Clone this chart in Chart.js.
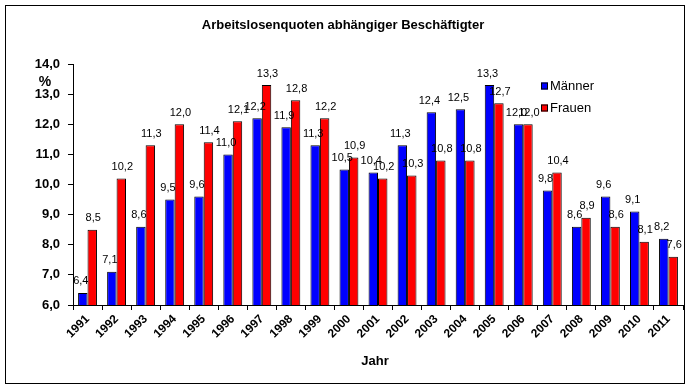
<!DOCTYPE html>
<html>
<head>
<meta charset="utf-8">
<script src="https://cdn.jsdelivr.net/npm/chart.js@4/dist/chart.umd.min.js"></script>
<style>
  html, body { margin: 0; padding: 0; background: #fff; }
  #wrap { width: 690px; height: 390px; }
</style>
</head>
<body>
<div id="wrap"><canvas id="chart" width="690" height="390"></canvas></div>
<script>
const years = ['1991', '1992', '1993', '1994', '1995', '1996', '1997', '1998', '1999', '2000',
               '2001', '2002', '2003', '2004', '2005', '2006', '2007', '2008', '2009', '2010', '2011'];
const maenner = [6.4, 7.1, 8.6, 9.5, 9.6, 11.0, 12.2, 11.9, 11.3, 10.5,
                 10.4, 11.3, 12.4, 12.5, 13.3, 12.0, 9.8, 8.6, 9.6, 9.1, 8.2];
const frauen = [8.5, 10.2, 11.3, 12.0, 11.4, 12.1, 13.3, 12.8, 12.2, 10.9,
                10.2, 10.3, 10.8, 10.8, 12.7, 12.0, 10.4, 8.9, 8.6, 8.1, 7.6];
const yTicks = [6, 7, 8, 9, 10, 11, 12, 13, 14];

const fmt = v => v.toFixed(1).replace('.', ',');
const FONT = 'Arial, "Liberation Sans", sans-serif';

// frame, title, axis captions, legend and value labels
const extras = {
    id: 'extras',
    afterDraw(chart) {
        const ctx = chart.ctx;
        ctx.save();

        ctx.strokeStyle = '#000';
        ctx.lineWidth = 1;
        ctx.strokeRect(5.5, 5.5, 679, 378);

        ctx.fillStyle = '#000';
        ctx.textAlign = 'center';
        ctx.textBaseline = 'middle';
        ctx.font = 'bold 13px ' + FONT;
        ctx.fillText('Arbeitslosenquoten abhängiger Beschäftigter', 343, 25);

        ctx.font = 'bold 14px ' + FONT;
        ctx.fillText('%', 45, 82);

        ctx.font = 'bold 13px ' + FONT;
        ctx.fillText('Jahr', 375, 361);

        // value labels
        ctx.font = '11px ' + FONT;
        ctx.textBaseline = 'bottom';
        chart.data.datasets.forEach((ds, i) => {
            const shift = i === 0 ? -2 : 1;
            chart.getDatasetMeta(i).data.forEach((bar, j) => {
                ctx.fillText(fmt(ds.data[j]), bar.x + shift, bar.y - 6);
            });
        });

        // legend
        const items = [['Männer', '#0000FF', 86], ['Frauen', '#FF0000', 108]];
        ctx.font = '13px ' + FONT;
        ctx.textAlign = 'left';
        ctx.textBaseline = 'middle';
        items.forEach(([label, color, y]) => {
            ctx.fillStyle = color;
            ctx.fillRect(541, y - 3.5, 7, 7);
            ctx.strokeStyle = '#000';
            ctx.strokeRect(541.5, y - 3, 6, 6);
            ctx.fillStyle = '#000';
            ctx.fillText(label, 550, y);
        });

        ctx.restore();
    }
};

new Chart(document.getElementById('chart').getContext('2d'), {
    type: 'bar',
    data: {
        labels: years,
        datasets: [{
            label: 'Männer',
            data: maenner,
            backgroundColor: '#0000FF',
            borderColor: '#000000',
            borderWidth: 1,
            categoryPercentage: 0.65,
            barPercentage: 1.0
        }, {
            label: 'Frauen',
            data: frauen,
            backgroundColor: '#FF0000',
            borderColor: '#000000',
            borderWidth: 1,
            categoryPercentage: 0.65,
            barPercentage: 1.0
        }]
    },
    options: {
        responsive: false,
        animation: false,
        layout: { padding: { left: 0, right: 7, top: 64, bottom: 0 } },
        plugins: {
            legend: { display: false },
            title: { display: false },
            tooltip: { enabled: false }
        },
        scales: {
            x: {
                afterFit(scale) { scale.height = 85; },
                grid: { display: true, drawOnChartArea: false, drawTicks: true, tickLength: 5, color: '#000', offset: true },
                border: { color: '#000', width: 1 },
                ticks: {
                    color: '#000',
                    font: { family: FONT, size: 12, weight: 'bold' },
                    minRotation: 45,
                    maxRotation: 45,
                    autoSkip: false,
                    padding: 2
                }
            },
            y: {
                min: yTicks[0],
                max: yTicks[yTicks.length - 1],
                afterFit(scale) { scale.width = 73; },
                afterBuildTicks(scale) { scale.ticks = yTicks.map(v => ({ value: v })); },
                grid: { display: true, drawOnChartArea: false, drawTicks: true, tickLength: 5, color: '#000' },
                border: { color: '#000', width: 1 },
                ticks: {
                    color: '#000',
                    font: { family: FONT, size: 13, weight: 'bold' },
                    padding: 8,
                    callback: v => fmt(v)
                }
            }
        }
    },
    plugins: [extras]
});
</script>
</body>
</html>
